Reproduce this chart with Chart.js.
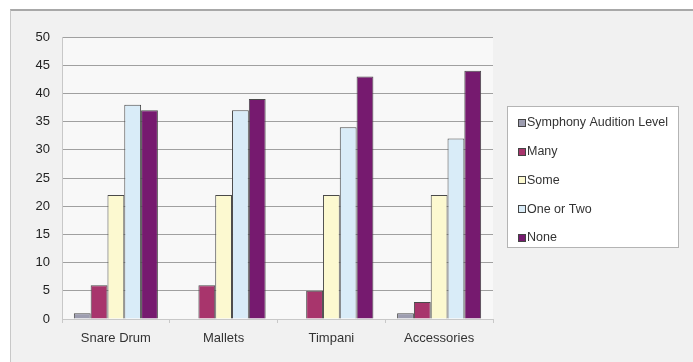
<!DOCTYPE html>
<html>
<head>
<meta charset="utf-8">
<script src="https://cdn.jsdelivr.net/npm/chart.js@4/dist/chart.umd.min.js"></script>
<style>
  html, body { margin: 0; padding: 0; background: #ffffff; }
  #wrap { position: relative; width: 693px; height: 362px; overflow: hidden; }
  #frame {
    position: absolute; left: 10px; top: 9px; width: 690px; height: 360px;
    background: #f1f1f1; border-top: 2px solid #a8a8a8; border-left: 1px solid #c8c8c8;
  }
  #chart { position: absolute; left: 0; top: 0; }
</style>
</head>
<body>
<div id="wrap">
  <div id="frame"></div>
  <canvas id="chart" width="693" height="362"></canvas>
</div>
<script>
// Categories along the x axis
const categories = ['Snare Drum', 'Mallets', 'Timpani', 'Accessories'];

// Series (one per experience level)
const seriesNames = ['Symphony Audition Level', 'Many', 'Some', 'One or Two', 'None'];
const symphonyAuditionLevel = [1, 0, 0, 1];
const many = [6, 6, 5, 3];
const some = [22, 22, 22, 22];
const oneOrTwo = [38, 37, 34, 32];
const none = [37, 39, 43, 44];

// Value axis ticks
const yTicks = [0, 5, 10, 15, 20, 25, 30, 35, 40, 45, 50];

const seriesValues = [symphonyAuditionLevel, many, some, oneOrTwo, none];
const seriesColors = ['#9d9db0', '#a8356c', '#fcf9d0', '#d9ecf8', '#761a6f'];

const FONT = 'Liberation Sans, Arial, sans-serif';

// Plot background and boxed legend at the right
const decorations = {
  id: 'decorations',
  beforeDraw(chart) {
    const { ctx, chartArea: a } = chart;
    ctx.save();
    ctx.fillStyle = '#f8f8f8';
    ctx.fillRect(a.left, a.top, a.right - a.left, a.bottom - a.top);
    ctx.restore();
  },
  afterDraw(chart) {
    const { ctx, chartArea: a } = chart;
    const w = 172, h = 142;
    const x = a.right + 14;
    const y = Math.round((a.top + a.bottom) / 2 - h / 2) - 1;
    ctx.save();
    ctx.fillStyle = '#ffffff';
    ctx.strokeStyle = '#b4b4b4';
    ctx.lineWidth = 1;
    ctx.fillRect(x, y, w, h);
    ctx.strokeRect(x + 0.5, y + 0.5, w - 1, h - 1);
    ctx.font = '12.5px ' + FONT;
    ctx.textBaseline = 'middle';
    chart.data.datasets.forEach((ds, i) => {
      const cy = y + 17 + i * 28.7;
      ctx.fillStyle = ds.backgroundColor;
      ctx.fillRect(x + 11.5, Math.round(cy - 4) + 0.5, 7, 7);
      ctx.strokeStyle = '#444';
      ctx.strokeRect(x + 11.5, Math.round(cy - 4) + 0.5, 7, 7);
      ctx.fillStyle = '#333';
      ctx.fillText(ds.label, x + 20, cy);
    });
    ctx.restore();
  }
};

new Chart(document.getElementById('chart'), {
  type: 'bar',
  data: {
    labels: categories,
    datasets: seriesNames.map((name, i) => ({
      label: name,
      data: seriesValues[i],
      backgroundColor: seriesColors[i],
      borderColor: '#4a4a4a',
      borderWidth: 1,
      categoryPercentage: 0.78,
      barPercentage: 1.0
    }))
  },
  options: {
    responsive: false,
    animation: false,
    layout: { padding: { left: 0, right: 200, top: 37, bottom: 0 } },
    plugins: {
      legend: { display: false },
      tooltip: { enabled: false }
    },
    scales: {
      x: {
        offset: true,
        grid: { display: true, drawOnChartArea: false, offset: true, tickLength: 4, color: '#c8c8c8' },
        border: { display: true, color: '#c8c8c8' },
        ticks: { color: '#333', font: { family: FONT, size: 13 }, padding: 8 },
        afterFit(scale) { scale.height = 43; }
      },
      y: {
        min: 0, max: 50,
        afterBuildTicks(scale) { scale.ticks = yTicks.map(v => ({ value: v })); },
        grid: { color: '#a0a0a0', drawTicks: false },
        border: { display: true, color: '#c8c8c8' },
        ticks: { color: '#222', font: { family: FONT, size: 13 }, padding: 12 },
        afterFit(scale) { scale.width = 62; }
      }
    }
  },
  plugins: [decorations]
});
</script>
</body>
</html>
